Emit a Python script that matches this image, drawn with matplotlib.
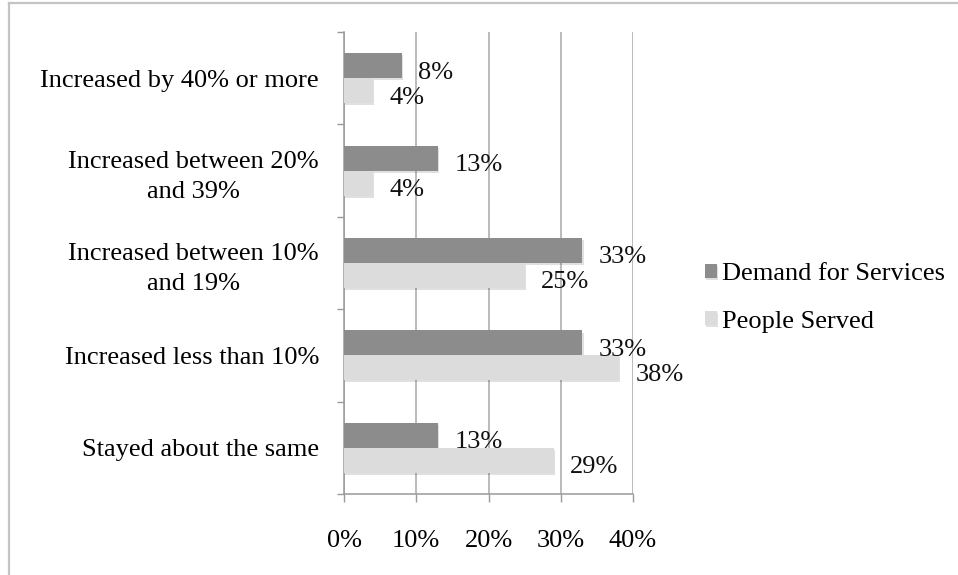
import numpy as np
import matplotlib
matplotlib.use('Agg')
import matplotlib.pyplot as plt
import matplotlib.patheffects as pe
from matplotlib.lines import Line2D

plt.rcParams['font.family'] = ['Liberation Serif', 'DejaVu Serif']

categories = ['Increased by 40% or more',
              'Increased between 20%\nand 39%',
              'Increased between 10%\nand 19%',
              'Increased less than 10%',
              'Stayed about the same']
demand = [8, 13, 33, 33, 13]
served = [4, 4, 25, 38, 29]
series_names = ['Demand for Services', 'People Served']
xticks = [0, 10, 20, 30, 40]

W, H = 958, 575
fs = 19
fig = plt.figure(figsize=(W/100, H/100), dpi=100)
ax = fig.add_axes([344/W, 1-494/H, (633-344)/W, (494-32)/H])

y = np.arange(len(categories))
h = 0.27
shadow = [pe.SimplePatchShadow(offset=(1, -1.5), shadow_rgbFace='#000000', alpha=0.12), pe.Normal()]
b1 = ax.barh(y - h/2, demand, height=h, color='#8c8c8c', label=series_names[0], zorder=3)
b2 = ax.barh(y + h/2, served, height=h, color='#dcdcdc', label=series_names[1], zorder=3)
for bars in (b1, b2):
    for p in bars:
        p.set_path_effects(shadow)

for vals, off in ((demand, -h/2), (served, h/2)):
    for i, v in enumerate(vals):
        ax.annotate(f'{v}%', (v, i + off), xytext=(12, -5), textcoords='offset points',
                    va='center', ha='left', fontsize=fs, color='#111111', zorder=4)

ax.set_xlim(0, 40)
ax.set_ylim(len(categories) - 0.5, -0.5)
ax.set_xticks(xticks)
ax.set_xticklabels([f'{t}%' for t in xticks], fontsize=fs)
ax.set_yticks(y)
ax.set_yticklabels(categories, fontsize=fs, multialignment='center', linespacing=1.45)
ax.set_yticks(np.arange(-0.5, len(categories)), minor=True)
ax.tick_params(axis='y', which='major', length=0, pad=18)
ax.tick_params(axis='y', which='minor', length=5, color='#999999', width=1)
ax.tick_params(axis='x', length=6, color='#999999', width=1, pad=20)
ax.xaxis.grid(True, color='#a8a8a8', linewidth=1.1, zorder=0)
ax.set_axisbelow(True)
for s in ('top', 'right'):
    ax.spines[s].set_visible(False)
for s in ('left', 'bottom'):
    ax.spines[s].set_color('#999999')
    ax.spines[s].set_linewidth(1.1)

fig.legend(handles=[b1, b2], loc='center left', bbox_to_anchor=(705/W, 1-298/H),
           frameon=False, fontsize=fs, handlelength=0.45, handleheight=0.45,
           handletextpad=0.2, labelspacing=0.95, borderpad=0, borderaxespad=0)

fig.add_artist(Line2D([9/W, 9/W], [0, 1-3/H], transform=fig.transFigure, color='#c4c4c4', lw=1.6))
fig.add_artist(Line2D([9/W, 1], [1-3/H, 1-3/H], transform=fig.transFigure, color='#c4c4c4', lw=1.6))

fig.savefig('out.png', dpi=100, facecolor='white')
